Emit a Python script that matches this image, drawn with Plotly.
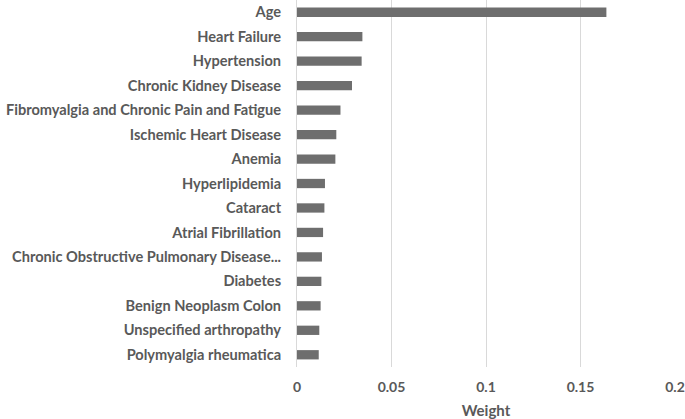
import plotly.graph_objs as go

# feature importance, top to bottom as shown
features = [
    "Age",
    "Heart Failure",
    "Hypertension",
    "Chronic Kidney Disease",
    "Fibromyalgia and Chronic Pain and Fatigue",
    "Ischemic Heart Disease",
    "Anemia",
    "Hyperlipidemia",
    "Cataract",
    "Atrial Fibrillation",
    "Chronic Obstructive Pulmonary Disease...",
    "Diabetes",
    "Benign Neoplasm Colon",
    "Unspecified arthropathy",
    "Polymyalgia rheumatica",
]
weights = [0.1637, 0.0346, 0.0342, 0.0291, 0.0230, 0.0208, 0.0203, 0.0148,
           0.0145, 0.0138, 0.0132, 0.0129, 0.0125, 0.0118, 0.0115]
tick_vals = [0, 0.05, 0.1, 0.15, 0.2]
tick_text = ["0", "0.05", "0.1", "0.15", "0.2"]

grey = "#595959"

trace = go.Bar(
    x=weights, y=features, orientation="h",
    marker=dict(color="#6e6e6e", line=dict(width=0)),
    width=0.38,
)

layout = go.Layout(
    width=685, height=419,
    margin=dict(l=297, r=10, t=0, b=52),
    plot_bgcolor="white", paper_bgcolor="white",
    showlegend=False,
    font=dict(family="Lato, Open Sans, sans-serif", color=grey),
    xaxis=dict(
        range=[0, 0.2], tickvals=tick_vals, ticktext=tick_text,
        showgrid=True, gridcolor="#d9d9d9", gridwidth=1,
        zeroline=False, showline=False, ticks="",
        automargin=False, ticklabelstandoff=10,
        tickfont=dict(size=14, color=grey, weight="bold"),
        title=dict(text="Weight", standoff=12,
                   font=dict(size=15, color=grey, weight="bold")),
    ),
    yaxis=dict(
        autorange="reversed", showgrid=False, zeroline=False,
        showline=True, linecolor="#d9d9d9", linewidth=1, ticks="",
        automargin=False, ticklabelstandoff=12,
        tickfont=dict(size=14.6, color=grey, weight="bold"),
    ),
)

fig = go.Figure([trace], layout=layout)
# drop the default page margin so the figure fills the window
fig.write_html("out.html", config={"displayModeBar": False},
               post_script="document.body.style.margin='0';")
